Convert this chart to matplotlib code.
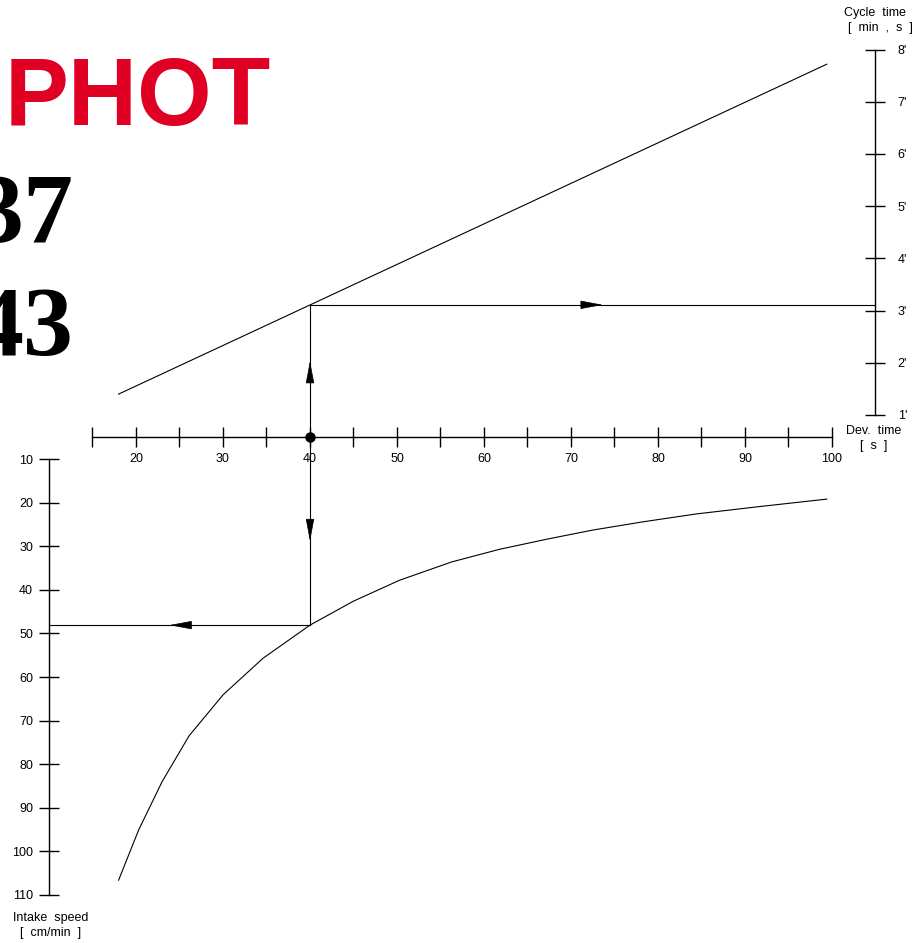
import matplotlib
matplotlib.use("Agg")
import matplotlib.pyplot as plt
from matplotlib.ticker import FixedLocator, FuncFormatter
from matplotlib.transforms import offset_copy

# data
dev_ticks = [20, 30, 40, 50, 60, 70, 80, 90, 100]
dev_minor = [15, 25, 35, 45, 55, 65, 75, 85, 95]
cycle_ticks = [1, 2, 3, 4, 5, 6, 7, 8]
speed_ticks = [10, 20, 30, 40, 50, 60, 70, 80, 90, 100, 110]

dev_line = [18.0, 99.4]
cycle_line = [1.40, 7.72]

dev_curve = [18.0, 20.3, 23.0, 26.1, 30.0, 34.6, 40.0, 45.0, 50.3, 56.3,
             61.8, 67.2, 72.5, 78.3, 84.4, 91.7, 99.4]
speed_curve = [106.6, 95.1, 84.0, 73.5, 64.1, 55.7, 48.1, 42.6, 37.8, 33.6,
               30.7, 28.4, 26.3, 24.4, 22.6, 20.9, 19.2]

# worked example
ex_dev = 40.0
ex_cycle = 3.11
ex_speed = 48.1

dev_axis_at = 5      # dev-time scale sits at speed = 5
speed_axis_at = 10   # intake speed scale sits at dev = 10
cycle_axis_at = 105  # cycle time scale sits at dev = 105

fig = plt.figure(figsize=(9.2, 9.43), dpi=100)
ax = fig.add_axes([0, 0, 1, 1])
ax.set_xlim(4.368, 110.115)
ax.set_ylim(121.01, -95.28)
ax2 = ax.twinx()
ax2.set_ylim(-9.115, 8.950)

lw_axis = 1.0
lw_line = 0.8

# spines / scales
for s in ["top", "right"]:
    ax.spines[s].set_visible(False)
for s in ["top", "left", "bottom"]:
    ax2.spines[s].set_visible(False)
ax.spines["left"].set_position(("data", speed_axis_at))
ax.spines["left"].set_bounds(speed_ticks[0], speed_ticks[-1])
ax.spines["bottom"].set_position(("data", dev_axis_at))
ax.spines["bottom"].set_bounds(dev_minor[0], dev_ticks[-1])
ax2.spines["right"].set_position(("data", cycle_axis_at))
ax2.spines["right"].set_bounds(cycle_ticks[0], cycle_ticks[-1])
for sp in [ax.spines["left"], ax.spines["bottom"], ax2.spines["right"]]:
    sp.set_linewidth(lw_axis)

ax.xaxis.set_major_locator(FixedLocator(dev_ticks))
ax.xaxis.set_minor_locator(FixedLocator(dev_minor))
ax.yaxis.set_major_locator(FixedLocator(speed_ticks))
ax2.yaxis.set_major_locator(FixedLocator(cycle_ticks))
ax2.yaxis.set_major_formatter(FuncFormatter(lambda v, p: "%d'" % v))

ax.tick_params(axis="x", which="both", direction="inout", length=15,
               width=lw_axis, pad=4, labelsize=9)
ax.tick_params(axis="y", which="both", direction="inout", length=15,
               width=lw_axis, pad=4, labelsize=9)
ax2.tick_params(axis="y", direction="inout", length=15, width=lw_axis,
                pad=8.5, labelsize=9)
for lab in ax.get_xticklabels() + ax.get_yticklabels() + ax2.get_yticklabels():
    lab.set_family("Liberation Sans")

# curves
ax2.plot(dev_line, cycle_line, color="black", lw=lw_line)
ax.plot(dev_curve, speed_curve, color="black", lw=lw_line)

# construction lines
fig.canvas.draw()
dot_cycle = ax2.transData.inverted().transform(
    ax.transData.transform((ex_dev, dev_axis_at)))[1]
ax2.plot([ex_dev, cycle_axis_at], [ex_cycle, ex_cycle], color="black", lw=lw_line)
ax2.plot([ex_dev, ex_dev], [dot_cycle, ex_cycle], color="black", lw=lw_line)
ax.plot([ex_dev, ex_dev], [dev_axis_at, ex_speed], color="black", lw=lw_line)
ax.plot([ex_dev, speed_axis_at], [ex_speed, ex_speed], color="black", lw=lw_line)
ax.plot([ex_dev], [dev_axis_at], "o", color="black", ms=6.5, zorder=5)


def mid_arrow(a, x0, y0, x1, y1, dx, dy):
    # arrowhead centred on the middle of a segment, pointing (dx, dy)
    mx, my = (x0 + x1) / 2, (y0 + y1) / 2
    tip = offset_copy(a.transData, fig=fig, x=dx * 7.2, y=dy * 7.2, units="points")
    a.annotate("", xy=(mx, my), xycoords=tip,
               xytext=(-dx * 14.4, -dy * 14.4), textcoords="offset points",
               arrowprops=dict(arrowstyle="-|>,head_length=1.44,head_width=0.27",
                               color="black", lw=0.5, shrinkA=0, shrinkB=0))


mid_arrow(ax2, ex_dev, ex_cycle, cycle_axis_at, ex_cycle, 1, 0)
mid_arrow(ax2, ex_dev, dot_cycle, ex_dev, ex_cycle, 0, 1)
mid_arrow(ax, ex_dev, dev_axis_at, ex_dev, ex_speed, 0, -1)
mid_arrow(ax, ex_dev, ex_speed, speed_axis_at, ex_speed, -1, 0)

# scale captions
cap = dict(ha="center", va="center", fontsize=9, family="Liberation Sans")
fig.text(875 / 920, 1 - 13 / 943, "Cycle  time", **cap)
fig.text(880 / 920, 1 - 28 / 943, "[  min  ,  s  ]", **cap)
fig.text(874 / 920, 1 - 431 / 943, "Dev.  time", **cap)
fig.text(874 / 920, 1 - 446 / 943, "[  s  ]", **cap)
fig.text(51 / 920, 1 - 918 / 943, "Intake  speed", **cap)
fig.text(51 / 920, 1 - 933 / 943, "[  cm/min  ]", **cap)

# header text (cut off at the left edge, as in the original)
fig.text(5 / 920, 1 - 125 / 943, "PHOT", color="#DF0024", fontsize=69,
         fontweight="bold", family="Liberation Sans", va="baseline", ha="left")
fig.text(74 / 920, 1 - 242 / 943, "37", color="black", fontsize=72,
         fontweight="bold", family="Liberation Serif", va="baseline", ha="right")
fig.text(74 / 920, 1 - 355 / 943, "43", color="black", fontsize=72,
         fontweight="bold", family="Liberation Serif", va="baseline", ha="right")

fig.savefig("out.png", dpi=100)
